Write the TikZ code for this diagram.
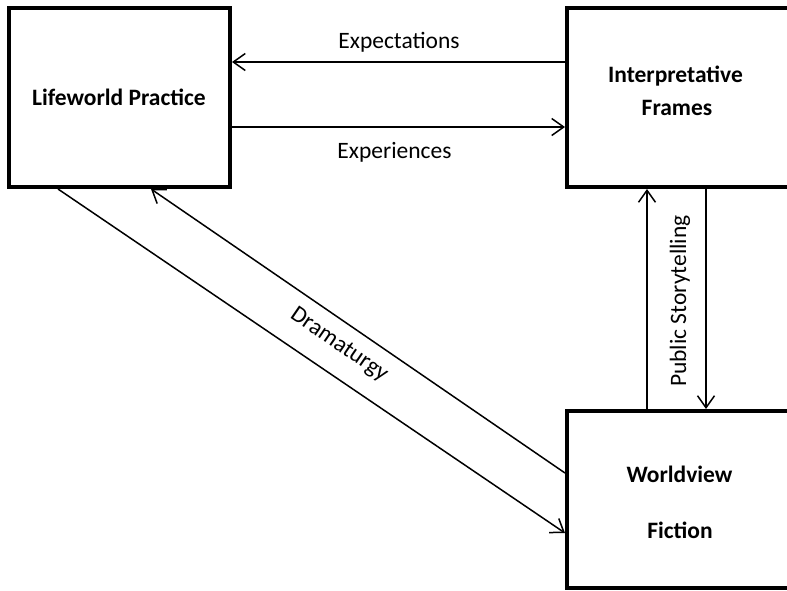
\documentclass[tikz,border=0pt]{standalone}
\usepackage{fontspec}
\setmainfont{Carlito}
\usetikzlibrary{arrows.meta}
\begin{document}
\begin{tikzpicture}[x=1pt,y=-1pt,
  box/.style={draw, line width=4pt, rectangle, inner sep=0pt},
  boxtext/.style={font=\fontsize{23.5}{28}\selectfont\bfseries, anchor=base, inner sep=0pt},
  lbl/.style={font=\fontsize{23.5}{28}\selectfont, inner sep=0pt},
  arr/.style={line width=1.5pt, -{Straight Barb[length=12pt,width=17pt,line width=1.5pt]}},
  link/.style={line width=1.5pt}]
  \clip (0,0) rectangle (787,590);

  % the three frames
  \node[box, minimum width=221.5pt, minimum height=179.5pt] (life) at (119.25,97.25) {};
  \node[box, minimum width=233pt, minimum height=179.5pt] (frames) at (683.5,97.25) {};
  \node[box, minimum width=233pt, minimum height=177pt] (world) at (683.5,499.5) {};

  % their titles
  \node[boxtext] (tlife) at (119,105) {Lifeworld Practice};
  \node[boxtext] (tframes1) at (675.5,82) {Interpretative};
  \node[boxtext] (tframes2) at (677,115) {Frames};
  \node[boxtext] (tworld1) at (679.5,482) {Worldview};
  \node[boxtext] (tworld2) at (680,538) {Fiction};

  % top pair of connectors
  \draw[arr] (frames.west |- 0,62) -- (life.east |- 0,62);
  \draw[arr] (life.east |- 0,127) -- (frames.west |- 0,127);
  \node[lbl, anchor=base] (lexp) at (399,48) {Expectations};
  \node[lbl, anchor=base] (lexpr) at (394.5,158) {Experiences};

  % diagonal pair
  \draw[arr] (life.south -| 58,0) -- (world.west |- 0,533);
  \draw[arr] (world.west |- 0,473) -- (life.south -| 151,0);
  \node[lbl, rotate=-34.5] (ldram) at (339,345) {Dramaturgy};

  % vertical pair
  \draw[arr] (world.north -| 647,0) -- (frames.south -| 647,0);
  \draw[arr] (frames.south -| 706,0) -- (world.north -| 706,0);
  \node[lbl, rotate=90] (lpub) at (680,301) {Public Storytelling};
\end{tikzpicture}
\end{document}
